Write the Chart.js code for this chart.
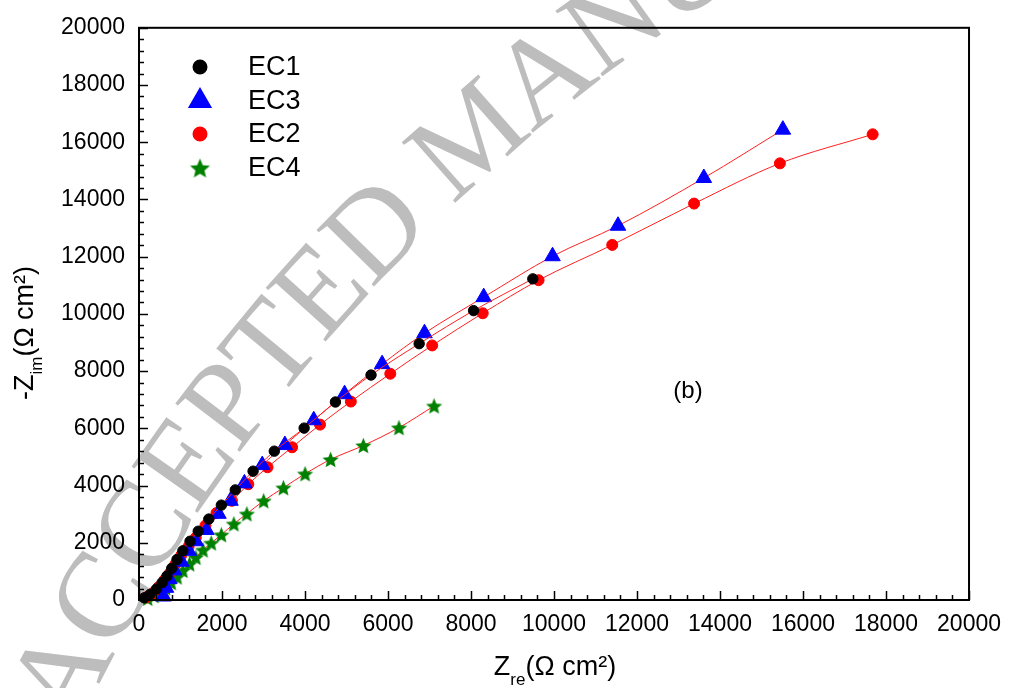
<!DOCTYPE html>
<html>
<head>
<meta charset="utf-8">
<script src="https://cdn.jsdelivr.net/npm/chart.js@4.4.1/dist/chart.umd.min.js"></script>
<style>
  html, body { margin: 0; padding: 0; background: #fff; }
  #wrap { width: 1012px; height: 688px; position: relative; }
</style>
</head>
<body>
<div id="wrap"><canvas id="chart-nyquist"></canvas></div>
<script>
// Nyquist data (Zre, -Zim in ohm cm2)
const ec1Zre = [128, 267, 418, 557, 673, 789, 916, 1056, 1230, 1427, 1682, 1984, 2320, 2749, 3260, 3979, 4733, 5591, 6751, 8062, 9489];
const ec1Zim = [76, 198, 380, 608, 837, 1110, 1415, 1719, 2053, 2403, 2829, 3316, 3848, 4502, 5202, 6008, 6921, 7864, 8959, 10115, 11225];

const ec3Zre = [592, 650, 731, 847, 1021, 1195, 1369, 1624, 1914, 2204, 2540, 2970, 3515, 4211, 4953, 5858, 6879, 8306, 9964, 11542, 13610, 15514];
const ec3Zim = [122, 426, 730, 1034, 1338, 1719, 2053, 2449, 3012, 3468, 4076, 4715, 5415, 6282, 7194, 8244, 9324, 10586, 12016, 13081, 14750, 16440];

const ec2Zre = [174, 336, 476, 615, 754, 882, 1021, 1195, 1369, 1601, 1868, 2239, 2633, 3097, 3689, 4362, 5104, 6055, 7064, 8282, 9628, 11403, 13375, 15443, 17678];
const ec2Zim = [91, 243, 456, 700, 958, 1262, 1567, 1871, 2175, 2601, 3042, 3468, 4046, 4639, 5339, 6130, 6936, 7909, 8898, 10023, 11179, 12411, 13856, 15262, 16277];

const ec4Zre = [209, 360, 499, 638, 777, 916, 1056, 1218, 1369, 1543, 1740, 1984, 2285, 2598, 3004, 3480, 4002, 4617, 5406, 6264, 7111];
const ec4Zim = [61, 152, 274, 426, 608, 806, 1034, 1262, 1491, 1749, 1993, 2282, 2662, 3012, 3468, 3924, 4411, 4913, 5400, 6023, 6784];

const tickValues = [0, 2000, 4000, 6000, 8000, 10000, 12000, 14000, 16000, 18000, 20000];
const seriesNames = ['EC1', 'EC3', 'EC2', 'EC4'];

const sans = '"Liberation Sans", Arial, sans-serif';

function makeStar(r, color) {
    const c = document.createElement('canvas');
    const size = Math.ceil(r * 2 + 2);
    c.width = size;
    c.height = size;
    const g = c.getContext('2d');
    g.fillStyle = color;
    g.beginPath();
    for (let i = 0; i < 10; i++) {
        const rad = i % 2 ? r * 0.45 : r;
        const a = -Math.PI / 2 + i * Math.PI / 5;
        g.lineTo(size / 2 + rad * Math.cos(a), size / 2 + rad * Math.sin(a) + r * 0.1);
    }
    g.closePath();
    g.fill();
    return c;
}

const toPoints = (xs, ys) => xs.map((x, i) => ({ x: x, y: ys[i] }));

const markers = [
    { color: '#000000', style: 'circle', radius: 5.2, legendRadius: 6.5 },
    { color: '#0000ff', style: 'triangle', radius: 9, legendRadius: 12 },
    { color: '#ff0000', style: 'circle', radius: 5.5, legendRadius: 6.5 },
    { color: '#008000', style: makeStar(8.5, '#008000'), radius: 8.5, legendRadius: 10, legendStyle: makeStar(10.5, '#008000') },
];

const seriesData = [
    toPoints(ec1Zre, ec1Zim),
    toPoints(ec3Zre, ec3Zim),
    toPoints(ec2Zre, ec2Zim),
    toPoints(ec4Zre, ec4Zim),
];

// grey arced watermark behind everything; fixed advances so it does not depend on the font found
const advance = { A: .722, C: .667, E: .611, P: .556, T: .611, D: .722, ' ': .25, M: .889, N: .722, U: .722, S: .556, R: .667, I: .333 };
const watermark = {
    id: 'watermark',
    beforeDraw(chart) {
        const ctx = chart.ctx;
        const text = 'ACCEPTED MANUSCRIPT';
        const size = 123;
        ctx.save();
        ctx.fillStyle = '#bdbdbd';
        ctx.font = size + 'px "Liberation Serif", "Times New Roman", serif';
        ctx.textAlign = 'center';
        ctx.textBaseline = 'alphabetic';
        let x = 39, y = 713;
        let ang = -64 * Math.PI / 180;
        const k = 0.0312 * Math.PI / 180;
        for (const ch of text) {
            const w = advance[ch] * size;
            x += Math.cos(ang) * w / 2;
            y += Math.sin(ang) * w / 2;
            ang += k * w / 2;
            ctx.save();
            ctx.translate(x, y);
            ctx.rotate(ang);
            ctx.fillText(ch, 0, 41);
            ctx.restore();
            x += Math.cos(ang) * w / 2;
            y += Math.sin(ang) * w / 2;
            ang += k * w / 2;
        }
        ctx.restore();
    }
};

function drawParts(ctx, parts) {
    let total = 0;
    parts.forEach(p => {
        ctx.font = p.size + 'px ' + sans;
        p.w = ctx.measureText(p.t).width;
        total += p.w;
    });
    let x = -total / 2;
    parts.forEach(p => {
        ctx.font = p.size + 'px ' + sans;
        ctx.fillText(p.t, x, p.dy || 0);
        x += p.w;
    });
}

// box, inward ticks, titles, legend
const frame = {
    id: 'frame',
    afterDraw(chart) {
        const ctx = chart.ctx;
        const area = chart.chartArea;
        const xs = chart.scales.x;
        const ys = chart.scales.y;
        ctx.save();
        ctx.strokeStyle = '#000';
        ctx.lineWidth = 1.5;
        for (let v = 0; v <= 20000; v += 400) {
            const len = v % 2000 === 0 ? 9 : 5;
            const px = Math.round(xs.getPixelForValue(v)) + 0.5;
            ctx.beginPath();
            ctx.moveTo(px, area.bottom);
            ctx.lineTo(px, area.bottom - len);
            ctx.stroke();
            const py = Math.round(ys.getPixelForValue(v)) + 0.5;
            ctx.beginPath();
            ctx.moveTo(area.left, py);
            ctx.lineTo(area.left + len, py);
            ctx.stroke();
        }
        ctx.lineWidth = 2;
        ctx.strokeRect(area.left, area.top, area.right - area.left, area.bottom - area.top);

        ctx.fillStyle = '#000';
        ctx.textAlign = 'left';
        ctx.textBaseline = 'alphabetic';

        // x title
        ctx.save();
        ctx.translate(555, 675);
        drawParts(ctx, [
            { t: 'Z', size: 27 },
            { t: 're', size: 17, dy: 10 },
            { t: '(\u03A9 cm\u00B2)', size: 27 },
        ]);
        ctx.restore();

        // y title
        ctx.save();
        ctx.translate(33, 333);
        ctx.rotate(-Math.PI / 2);
        drawParts(ctx, [
            { t: '-Z', size: 27 },
            { t: 'im', size: 17, dy: 9 },
            { t: '(\u03A9 cm\u00B2)', size: 27 },
        ]);
        ctx.restore();

        // panel tag
        ctx.font = '24px ' + sans;
        ctx.textAlign = 'center';
        ctx.textBaseline = 'middle';
        ctx.fillText('(b)', 688, 391);

        // legend
        const rows = [67, 101, 134, 168];
        ctx.textAlign = 'left';
        ctx.font = '27px ' + sans;
        seriesNames.forEach((name, i) => {
            const m = markers[i];
            ctx.fillStyle = m.color;
            ctx.strokeStyle = m.color;
            Chart.helpers.drawPoint(ctx, {
                pointStyle: m.legendStyle || m.style,
                radius: m.legendRadius,
                rotation: 0,
                borderWidth: 1
            }, 200, rows[i]);
            ctx.fillStyle = '#000';
            ctx.fillText(name, 248, rows[i] + 1);
        });
        ctx.restore();
    }
};

const chartNyquist = new Chart(document.getElementById('chart-nyquist'), {
    type: 'scatter',
    data: {
        datasets: seriesNames.map((name, i) => ({
            label: name,
            data: seriesData[i],
            showLine: true,
            borderColor: '#ff2020',
            borderWidth: 1,
            cubicInterpolationMode: 'monotone',
            pointStyle: markers[i].style,
            pointRadius: markers[i].radius,
            pointBackgroundColor: markers[i].color,
            pointBorderColor: markers[i].color,
            pointBorderWidth: 1,
            clip: 10,
        }))
    },
    options: {
        responsive: true,
        maintainAspectRatio: false,
        animation: false,
        events: [],
        layout: {
            padding: { left: 0, top: 23, right: 38, bottom: 0 }
        },
        plugins: {
            legend: { display: false },
            tooltip: { enabled: false }
        },
        scales: {
            x: {
                type: 'linear',
                min: 0,
                max: 20000,
                afterBuildTicks: scale => { scale.ticks = tickValues.map(v => ({ value: v })); },
                afterFit: scale => { scale.height = 88; },
                grid: { display: false, drawTicks: false },
                border: { display: false },
                ticks: {
                    color: '#000',
                    padding: 11,
                    maxRotation: 0,
                    autoSkip: false,
                    callback: value => String(value),
                    font: { size: 23, family: sans }
                }
            },
            y: {
                type: 'linear',
                min: 0,
                max: 20000,
                afterBuildTicks: scale => { scale.ticks = tickValues.map(v => ({ value: v })); },
                afterFit: scale => { scale.width = 139; },
                grid: { display: false, drawTicks: false },
                border: { display: false },
                ticks: {
                    color: '#000',
                    padding: 14,
                    autoSkip: false,
                    callback: value => String(value),
                    font: { size: 23, family: sans }
                }
            }
        }
    },
    plugins: [watermark, frame]
});
</script>
</body>
</html>
